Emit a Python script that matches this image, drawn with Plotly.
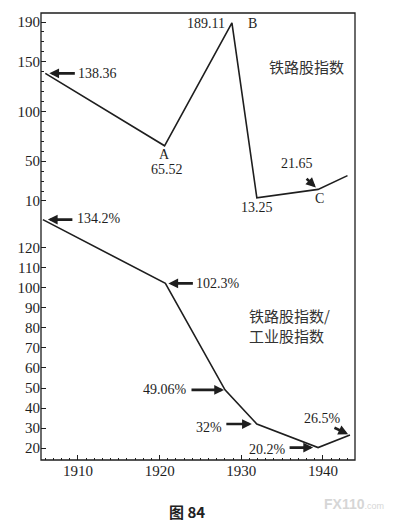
import plotly.graph_objects as go

# ---- data ----
rail_years = [1906.0, 1920.6, 1928.85, 1931.9, 1939.4, 1943.0]
rail_index = [138.36, 65.52, 189.11, 13.25, 21.65, 35.5]

ratio_years = [1905.7, 1920.7, 1928.0, 1931.9, 1939.4, 1943.3]
ratio_pct = [134.2, 102.3, 49.06, 32.0, 20.2, 26.5]

top_ticks = [10, 50, 100, 150, 190]
bottom_ticks = [20, 30, 40, 50, 60, 70, 80, 90, 100, 110, 120]
x_ticks = [1910, 1920, 1930, 1940]

SERIF = "Liberation Serif, Times New Roman, serif"
CJK = "Noto Sans CJK SC, sans-serif"
INK = "#1e1e1e"

fig = go.Figure()
fig.add_trace(go.Scatter(x=rail_years, y=rail_index, mode="lines",
                         line=dict(color=INK, width=1.6), xaxis="x", yaxis="y",
                         hoverinfo="skip"))
fig.add_trace(go.Scatter(x=ratio_years, y=ratio_pct, mode="lines",
                         line=dict(color=INK, width=1.6), xaxis="x", yaxis="y2",
                         hoverinfo="skip"))

split = 0.5593
# the page body has an 8px default margin, so the figure is 8px smaller
fig.update_layout(
    width=399, height=520,
    margin=dict(l=33, r=52, t=5, b=68),
    paper_bgcolor="white", plot_bgcolor="white",
    showlegend=False,
    font=dict(family=SERIF, size=14, color=INK),
    xaxis=dict(domain=[0, 1], anchor="y2", range=[1905.47, 1943.92],
               tickvals=x_ticks, ticks="inside", ticklen=5, tickcolor=INK,
               minor=dict(dtick=1, tick0=1900, ticks="inside", ticklen=2, tickcolor=INK),
               showgrid=False, zeroline=False, showline=False, automargin=False,
               tickfont=dict(family=SERIF, size=15, color=INK)),
    yaxis=dict(domain=[split, 1], anchor="x", range=[0.95, 199.05],
               tickvals=top_ticks, ticks="inside", ticklen=5, tickcolor=INK,
               minor=dict(dtick=10, tick0=0, ticks="inside", ticklen=3, tickcolor=INK),
               showgrid=False, zeroline=False, showline=False, automargin=False,
               tickfont=dict(family=SERIF, size=15, color=INK)),
    yaxis2=dict(domain=[0, split], anchor="x", range=[14.0, 139.0],
                tickvals=bottom_ticks, ticks="inside", ticklen=5, tickcolor=INK,
                showgrid=False, zeroline=False, showline=False, automargin=False,
                tickfont=dict(family=SERIF, size=15, color=INK)),
)

fig.add_shape(type="rect", xref="paper", yref="paper", x0=0, x1=1, y0=0, y1=1,
              line=dict(color=INK, width=1.3), layer="above")

ann = []


def label(text, x, y, yref, xs=0, ys=0, xanchor="center", size=14, font=SERIF):
    ann.append(dict(text=text, x=x, y=y, xref="x", yref=yref, xshift=xs, yshift=ys,
                    xanchor=xanchor, yanchor="middle", showarrow=False,
                    font=dict(family=font, size=size, color=INK)))


def arrow(x, y, yref, ax, ay, standoff):
    ann.append(dict(text="", x=x, y=y, xref="x", yref=yref, ax=ax, ay=ay,
                    showarrow=True, arrowhead=2, arrowsize=0.75, arrowwidth=2.6,
                    arrowcolor=INK, standoff=standoff))


# top panel annotations
label(f"{rail_index[0]:.2f}", rail_years[0], rail_index[0], "y", xs=31, xanchor="left")
arrow(rail_years[0], rail_index[0], "y", 31, 0, 4)
label("A", rail_years[1], rail_index[1], "y", ys=-9)
label(f"{rail_index[1]:.2f}", rail_years[1], rail_index[1], "y", xs=2, ys=-24)
label(f"{rail_index[2]:.2f}", rail_years[2], rail_index[2], "y", xs=-5, ys=-1, xanchor="right")
label("B", rail_years[2], rail_index[2], "y", xs=21, ys=-1)
label(f"{rail_index[3]:.2f}", rail_years[3], rail_index[3], "y", ys=-10)
label(f"{rail_index[4]:.2f}", rail_years[4], rail_index[4], "y", xs=-21, ys=26)
arrow(rail_years[4], rail_index[4], "y", -13, -12, 3)
label("C", rail_years[4], rail_index[4], "y", xs=1, ys=-9)

# bottom panel annotations
label(f"{ratio_pct[0]:.1f}%", ratio_years[0], ratio_pct[0], "y2", xs=32, ys=1, xanchor="left")
arrow(ratio_years[0], ratio_pct[0], "y2", 31, 0, 5)
label(f"{ratio_pct[1]:.1f}%", ratio_years[1], ratio_pct[1], "y2", xs=29, xanchor="left")
arrow(ratio_years[1], ratio_pct[1], "y2", 29, 0, 3)
label(f"{ratio_pct[2]:.2f}%", ratio_years[2], ratio_pct[2], "y2", xs=-36, xanchor="right")
arrow(ratio_years[2], ratio_pct[2], "y2", -35, 0, 1)
label(f"{ratio_pct[3]:.0f}%", ratio_years[3], ratio_pct[3], "y2", xs=-33, ys=-3, xanchor="right")
arrow(ratio_years[3], ratio_pct[3], "y2", -32, 0, 5)
label(f"{ratio_pct[4]:.1f}%", ratio_years[4], ratio_pct[4], "y2", xs=-30, ys=-2, xanchor="right")
arrow(ratio_years[4], ratio_pct[4], "y2", -30, 0, 5)
label(f"{ratio_pct[5]:.1f}%", ratio_years[5], ratio_pct[5], "y2", xs=-27, ys=17)
arrow(ratio_years[5], ratio_pct[5], "y2", -17, -8, 2)

fig.update_layout(annotations=ann)


def paper_text(text, x, y, font, align="center"):
    fig.add_annotation(text=text, xref="paper", yref="paper", x=x, y=y,
                       xanchor="center", yanchor="middle", align=align,
                       showarrow=False, font=font)


# panel titles, caption and watermark
paper_text("铁路股指数", 0.844, 0.881, dict(family=CJK, size=15, color="#333"))
paper_text("铁路股指数/<br>工业股指数", 0.79, 0.302, dict(family=CJK, size=15, color="#333"),
           align="left")
paper_text("<b>图 84</b>", 0.465, -0.116,
           dict(family="Noto Sans CJK SC, " + SERIF, size=15, color="#222"))
paper_text("<b>FX110</b><span style='font-size:9px'>.com</span>", 0.997, -0.098,
           dict(family="Liberation Sans, Arial, sans-serif", size=14, color="#d6d6d6"))

fig.write_html("out.html")
